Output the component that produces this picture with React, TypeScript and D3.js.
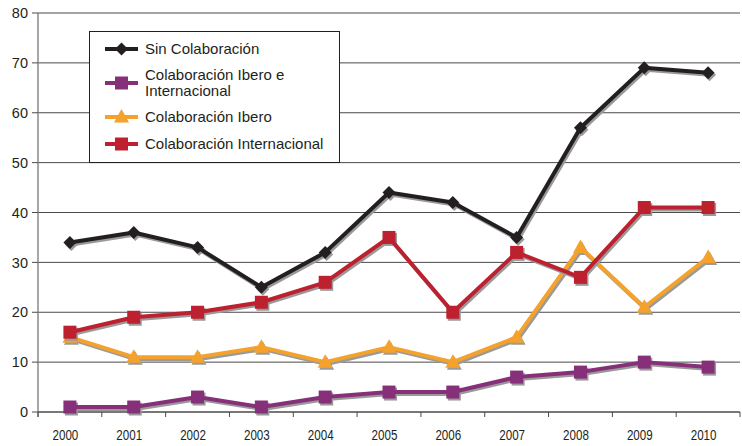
import React from "react";
import * as d3 from "d3";

const years = ["2000","2001","2002","2003","2004","2005","2006","2007","2008","2009","2010"];
const sinColab = [34, 36, 33, 25, 32, 44, 42, 35, 57, 69, 68];
const iberoInter = [1, 1, 3, 1, 3, 4, 4, 7, 8, 10, 9];
const ibero = [15, 11, 11, 13, 10, 13, 10, 15, 33, 21, 31];
const internacional = [16, 19, 20, 22, 26, 35, 20, 32, 27, 41, 41];
const yTicks = [0, 10, 20, 30, 40, 50, 60, 70, 80];

type Shape = "diamond" | "square" | "triangle";
const series: { name: string[]; values: number[]; color: string; shape: Shape }[] = [
  { name: ["Sin Colaboración"], values: sinColab, color: "#231f20", shape: "diamond" },
  { name: ["Colaboración Ibero e", "Internacional"], values: iberoInter, color: "#86307a", shape: "square" },
  { name: ["Colaboración Ibero"], values: ibero, color: "#f4a22c", shape: "triangle" },
  { name: ["Colaboración Internacional"], values: internacional, color: "#bd2130", shape: "square" },
];
const drawOrder = [2, 1, 3, 0];

const W = 742, H = 446;
const left = 38, right = 740, top = 13, bottom = 412;

function marker(shape: Shape, x: number, y: number, color: string, key: string) {
  if (shape === "square") return <rect key={key} x={x - 6.5} y={y - 6.5} width={13} height={13} fill={color} />;
  if (shape === "diamond") return <path key={key} d={`M${x},${y - 6.5}L${x + 6.5},${y}L${x},${y + 6.5}L${x - 6.5},${y}Z`} fill={color} />;
  return <path key={key} d={`M${x},${y - 8}L${x + 7.5},${y + 5.5}L${x - 7.5},${y + 5.5}Z`} fill={color} />;
}

export default function App() {
  const x = d3.scaleBand<string>().domain(years).range([left, right]).padding(0);
  const y = d3.scaleLinear().domain([0, 80]).range([bottom, top]);
  const cx = (yr: string) => (x(yr) as number) + x.bandwidth() / 2;
  const line = d3.line<number>().x((_, i) => cx(years[i])).y((v) => y(v));
  const font = "'Liberation Sans', Arial, sans-serif";

  const legendRows = [
    { s: 0, y: 49 },
    { s: 1, y: 83 },
    { s: 2, y: 117 },
    { s: 3, y: 144 },
  ];

  return (
    <svg width={W} height={H} style={{ position: "absolute", left: 0, top: 0, background: "#fff" }} fontFamily={font}>
      {yTicks.map((t) => (
        <line key={"g" + t} x1={left} x2={right} y1={y(t)} y2={y(t)} stroke="#4a4a4a" strokeWidth={1} />
      ))}
      <line x1={left} x2={left} y1={top} y2={bottom + 5} stroke="#8a8a8a" strokeWidth={1.5} />
      {yTicks.map((t) => (
        <g key={"yt" + t}>
          <line x1={left - 6} x2={left} y1={y(t)} y2={y(t)} stroke="#4a4a4a" />
          <text x={28} y={y(t)} dy="0.36em" textAnchor="end" fontSize={14.5} fill="#231f20">{t}</text>
        </g>
      ))}
      <line x1={left} x2={right} y1={bottom} y2={bottom} stroke="#4a4a4a" strokeWidth={1.2} />
      {years.map((yr) => (
        <line key={"xt" + yr} x1={x(yr) as number} x2={x(yr) as number} y1={bottom} y2={bottom + 5} stroke="#4a4a4a" />
      ))}
      <line x1={right} x2={right} y1={bottom} y2={bottom + 5} stroke="#4a4a4a" />
      {years.map((yr) => (
        <text key={"xl" + yr} transform={`translate(${cx(yr) - 4.5},440) scale(0.8,1)`} textAnchor="middle" fontSize={14.5} fill="#231f20">{yr}</text>
      ))}

      {drawOrder.map((si) => {
        const s = series[si];
        return (
          <g key={"s" + si}>
            <g transform="translate(1.5,2)">
              <path d={line(s.values) || ""} fill="none" stroke="#9a9a9a" strokeWidth={4} strokeLinejoin="round" />
              {s.values.map((v, i) => marker(s.shape, cx(years[i]), y(v), "#9a9a9a", "sh" + i))}
            </g>
            <path d={line(s.values) || ""} fill="none" stroke={s.color} strokeWidth={4} strokeLinejoin="round" />
            {s.values.map((v, i) => marker(s.shape, cx(years[i]), y(v), s.color, "m" + i))}
          </g>
        );
      })}

      <rect x={89.5} y={31.5} width={250} height={131} fill="#fff" stroke="#231f20" strokeWidth={1} />
      {legendRows.map((r) => {
        const s = series[r.s];
        return (
          <g key={"lg" + r.s}>
            <line x1={105} x2={138} y1={r.y} y2={r.y} stroke={s.color} strokeWidth={4} />
            {marker(s.shape, 121.5, r.y, s.color, "lm")}
            {s.name.length === 1 ? (
              <text x={145} y={r.y} dy="0.36em" fontSize={15} fill="#231f20">{s.name[0]}</text>
            ) : (
              <text x={145} y={r.y - 8} dy="0.36em" fontSize={15} fill="#231f20">
                <tspan x={145}>{s.name[0]}</tspan>
                <tspan x={145} dy={16}>{s.name[1]}</tspan>
              </text>
            )}
          </g>
        );
      })}
    </svg>
  );
}
